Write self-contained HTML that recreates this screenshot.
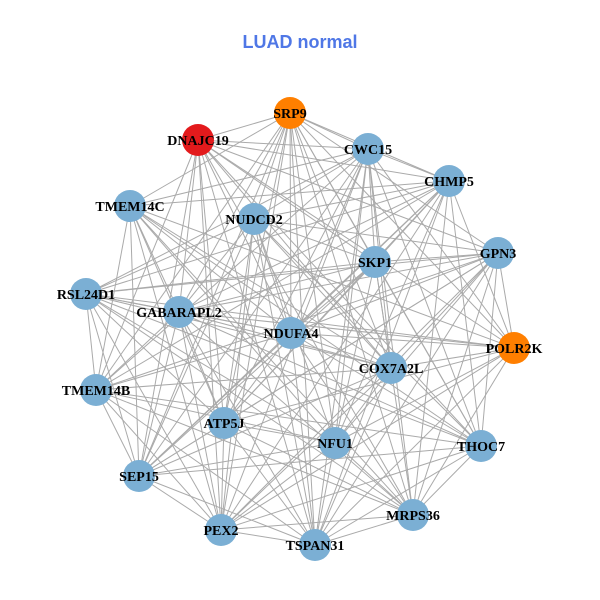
<!DOCTYPE html>
<html><head><meta charset="utf-8"><style>
html,body{margin:0;padding:0;background:#fff;}
svg{display:block;}
</style></head><body>
<svg id="s" width="600" height="600" xmlns="http://www.w3.org/2000/svg">
<rect width="600" height="600" fill="#fff"/>
<text x="300" y="48" text-anchor="middle" font-family="Liberation Sans, sans-serif" font-weight="bold" font-size="18" fill="#4f77e6">LUAD normal</text>
<g id="edges" stroke="#aaaaaa" stroke-width="1" fill="none"></g>
<g id="nodes"></g>
</svg>
<script>
var N=[
["SRP9",290,113,"#ff7f00"],["DNAJC19",198,140,"#e31a1c"],["CWC15",368,149],["CHMP5",449,181],
["TMEM14C",130,206],["NUDCD2",254,219],["SKP1",375,262],["GPN3",498,253],["RSL24D1",86,294],
["GABARAPL2",179,312],["NDUFA4",291,333],["POLR2K",514,348,"#ff7f00"],["COX7A2L",391,368],
["TMEM14B",96,390],["ATP5J",224,423],["NFU1",335,443],["THOC7",481,446],["SEP15",139,476],
["MRPS36",413,515],["PEX2",221,530],["TSPAN31",315,545]];
var ns="http://www.w3.org/2000/svg",E=document.getElementById("edges"),G=document.getElementById("nodes");
var seed=7;function r(){seed=(seed*9301+49297)%233280;return seed/233280;}
for(var i=0;i<N.length;i++)for(var j=i+1;j<N.length;j++){
 if(r()<0.8){var l=document.createElementNS(ns,"line");
 l.setAttribute("x1",N[i][1]);l.setAttribute("y1",N[i][2]);l.setAttribute("x2",N[j][1]);l.setAttribute("y2",N[j][2]);E.appendChild(l);}}
N.forEach(function(n){
 var c=document.createElementNS(ns,"circle");c.setAttribute("cx",n[1]);c.setAttribute("cy",n[2]);c.setAttribute("r",16);
 c.setAttribute("fill",n[3]||"#7bafd4");G.appendChild(c);
 var t=document.createElementNS(ns,"text");t.setAttribute("x",n[1]);t.setAttribute("y",n[2]+5);
 t.setAttribute("text-anchor","middle");t.setAttribute("font-family","Liberation Serif, serif");
 t.setAttribute("font-weight","bold");t.setAttribute("font-size","14");t.setAttribute("fill","#000");
 t.textContent=n[0];G.appendChild(t);});
</script>
</body></html>
